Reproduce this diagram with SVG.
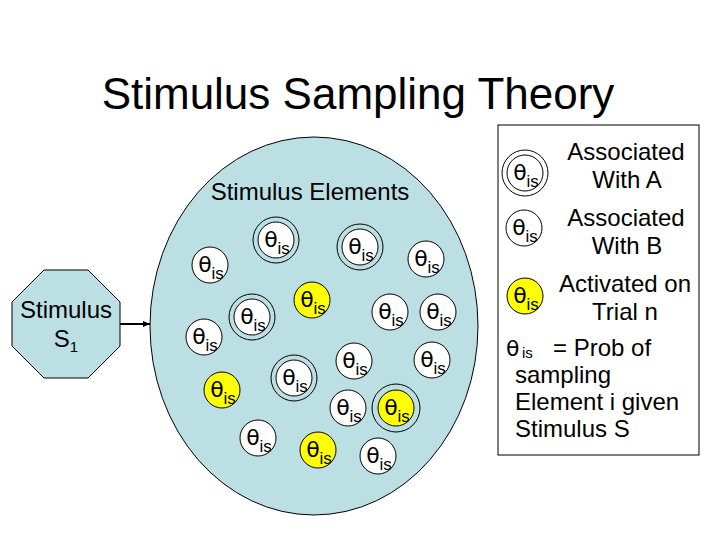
<svg xmlns="http://www.w3.org/2000/svg" width="720" height="540" viewBox="0 0 720 540">
<defs>
<style>
text{font-family:"Liberation Sans",Arial,sans-serif;fill:#000}
.title{font-size:44px;text-anchor:middle}
.lbl{font-size:24px}
.mid{text-anchor:middle}
.th{font-family:"DejaVu Sans","Liberation Serif",serif;font-size:22px}
.sub{font-family:"Liberation Sans",Arial,sans-serif;font-size:17px}
.sm{font-size:15px}
.w{fill:#fff;stroke:#000;stroke-width:1}
.y{fill:#ffff00;stroke:#000;stroke-width:1}
.ring{fill:none;stroke:#000;stroke-width:1}
.bg{fill:#bcdfe3;stroke:#000;stroke-width:1}
</style>
<marker id="ah" markerWidth="8" markerHeight="8" refX="7" refY="4" orient="auto" markerUnits="userSpaceOnUse">
<path d="M0,1 L7,4 L0,7 Z" fill="#000"/>
</marker>
</defs>
<rect width="720" height="540" fill="#fff"/>
<text class="title" x="358" y="109">Stimulus Sampling Theory</text>

<g id="pool">
<ellipse class="bg" cx="314" cy="326" rx="164" ry="189"/>
<text class="lbl mid" x="310" y="200">Stimulus Elements</text>
</g>

<g id="stimulus">
<polygon class="bg" points="44,270 88,270 120,302 120,346 88,378 44,378 12,346 12,302"/>
<text class="lbl mid" x="66" y="318">Stimulus</text>
<text class="lbl mid" x="66" y="347">S<tspan class="sm" dy="5">1</tspan></text>
</g>

<g id="connectors">
<line x1="120" y1="324" x2="150" y2="324" stroke="#000" stroke-width="2" marker-end="url(#ah)"/>
</g>

<g id="e1" transform="translate(210,265)"><circle class="w" r="18"/><text x="1" y="7" class="mid"><tspan class="th">θ</tspan><tspan class="sub" dy="7">is</tspan></text></g>
<g id="e2" transform="translate(276,240)"><circle class="ring" r="23"/><circle class="w" r="18"/><text x="1" y="7" class="mid"><tspan class="th">θ</tspan><tspan class="sub" dy="7">is</tspan></text></g>
<g id="e3" transform="translate(360,247)"><circle class="ring" r="23"/><circle class="w" r="18"/><text x="1" y="7" class="mid"><tspan class="th">θ</tspan><tspan class="sub" dy="7">is</tspan></text></g>
<g id="e4" transform="translate(426,259)"><circle class="w" r="18"/><text x="1" y="7" class="mid"><tspan class="th">θ</tspan><tspan class="sub" dy="7">is</tspan></text></g>
<g id="e5" transform="translate(312,300)"><circle class="y" r="18"/><text x="1" y="7" class="mid"><tspan class="th">θ</tspan><tspan class="sub" dy="7">is</tspan></text></g>
<g id="e6" transform="translate(252,317)"><circle class="ring" r="23"/><circle class="w" r="18"/><text x="1" y="7" class="mid"><tspan class="th">θ</tspan><tspan class="sub" dy="7">is</tspan></text></g>
<g id="e7" transform="translate(390,312)"><circle class="w" r="18"/><text x="1" y="7" class="mid"><tspan class="th">θ</tspan><tspan class="sub" dy="7">is</tspan></text></g>
<g id="e8" transform="translate(438,312)"><circle class="w" r="18"/><text x="1" y="7" class="mid"><tspan class="th">θ</tspan><tspan class="sub" dy="7">is</tspan></text></g>
<g id="e9" transform="translate(204,337)"><circle class="w" r="18"/><text x="1" y="7" class="mid"><tspan class="th">θ</tspan><tspan class="sub" dy="7">is</tspan></text></g>
<g id="e10" transform="translate(354,361)"><circle class="w" r="18"/><text x="1" y="7" class="mid"><tspan class="th">θ</tspan><tspan class="sub" dy="7">is</tspan></text></g>
<g id="e11" transform="translate(432,360)"><circle class="w" r="18"/><text x="1" y="7" class="mid"><tspan class="th">θ</tspan><tspan class="sub" dy="7">is</tspan></text></g>
<g id="e12" transform="translate(222,390)"><circle class="y" r="18"/><text x="1" y="7" class="mid"><tspan class="th">θ</tspan><tspan class="sub" dy="7">is</tspan></text></g>
<g id="e13" transform="translate(294,378)"><circle class="ring" r="23"/><circle class="w" r="18"/><text x="1" y="7" class="mid"><tspan class="th">θ</tspan><tspan class="sub" dy="7">is</tspan></text></g>
<g id="e14" transform="translate(348,408)"><circle class="w" r="18"/><text x="1" y="7" class="mid"><tspan class="th">θ</tspan><tspan class="sub" dy="7">is</tspan></text></g>
<g id="e15" transform="translate(396,408)"><circle class="ring" r="24"/><circle class="y" r="18"/><text x="1" y="7" class="mid"><tspan class="th">θ</tspan><tspan class="sub" dy="7">is</tspan></text></g>
<g id="e16" transform="translate(258,438)"><circle class="w" r="18"/><text x="1" y="7" class="mid"><tspan class="th">θ</tspan><tspan class="sub" dy="7">is</tspan></text></g>
<g id="e17" transform="translate(318,450)"><circle class="y" r="18"/><text x="1" y="7" class="mid"><tspan class="th">θ</tspan><tspan class="sub" dy="7">is</tspan></text></g>
<g id="e18" transform="translate(378,456)"><circle class="w" r="18"/><text x="1" y="7" class="mid"><tspan class="th">θ</tspan><tspan class="sub" dy="7">is</tspan></text></g>

<g id="legend">
<rect x="498" y="125" width="201" height="330" fill="#fff" stroke="#000" stroke-width="1"/>
<g id="legA" transform="translate(525,173)"><circle class="ring" r="23"/><circle class="w" r="18"/><text x="1" y="7" class="mid"><tspan class="th">θ</tspan><tspan class="sub" dy="7">is</tspan></text></g>
<text class="lbl mid" x="626" y="160">Associated</text>
<text class="lbl mid" x="627" y="188">With A</text>
<g id="legB" transform="translate(524,228)"><circle class="w" r="18"/><text x="1" y="7" class="mid"><tspan class="th">θ</tspan><tspan class="sub" dy="7">is</tspan></text></g>
<text class="lbl mid" x="626" y="226">Associated</text>
<text class="lbl mid" x="627" y="254">With B</text>
<g id="legC" transform="translate(525,296)"><circle class="y" r="18"/><text x="1" y="7" class="mid"><tspan class="th">θ</tspan><tspan class="sub" dy="7">is</tspan></text></g>
<text class="lbl mid" x="625" y="292">Activated on</text>
<text class="lbl mid" x="625" y="320">Trial n</text>
<text class="lbl" x="506" y="356"><tspan class="th">θ</tspan><tspan class="sub sm" x="522" dy="2">is</tspan><tspan x="553" dy="-2">= Prob of</tspan></text>
<text class="lbl" x="515" y="383">sampling</text>
<text class="lbl" x="515" y="410">Element i given</text>
<text class="lbl" x="515" y="437">Stimulus S</text>
</g>
</svg>
